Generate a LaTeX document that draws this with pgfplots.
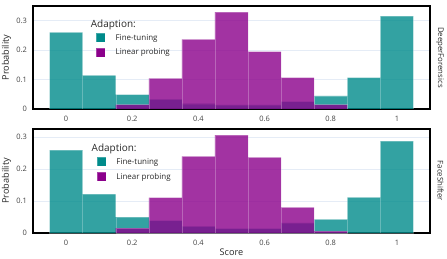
\documentclass[border=0pt]{standalone}
\usepackage{pgfplots}
\pgfplotsset{compat=1.18}
\usepackage{fontspec}
\setmainfont{Open Sans}
\definecolor{ft}{RGB}{0,139,139}
\definecolor{lp}{RGB}{139,0,139}
\definecolor{gridc}{RGB}{229,236,246}
\definecolor{tickc}{RGB}{68,68,68}
\definecolor{labc}{RGB}{40,40,40}
\tikzset{sidelab/.style={rotate=-90, anchor=center, font=\fontsize{7.8}{9}\selectfont, text=labc, inner sep=0pt}}
\pgfplotsset{
  hist/.style={
    scale only axis, width=397bp,
    clip mode=individual,
    xmin=-0.1, xmax=1.1, ymin=0,
    xtick={0,0.2,0.4,0.6,0.8,1},
    ytick={0,0.1,0.2,0.3},
    major tick length=0pt,
    /pgf/number format/assume math mode=true,
    tick label style={font=\fontsize{7.5}{8}\selectfont, text=tickc},
    xticklabel style={yshift=-3.5bp},
    yticklabel style={xshift=-2.5bp},
    ymajorgrids, xmajorgrids=false,
    major grid style={gridc, line width=0.6pt},
    axis line style={black, line width=1.4pt},
    ylabel={Probability},
    every axis y label/.style={at={(rel axis cs:0,0.5)}, xshift=-26.5bp, rotate=90, anchor=center, font=\fontsize{9.2}{11}\selectfont, text=labc},
    ybar, bar width=0.1, bar shift=0pt,
    legend image code/.code={\fill[##1, fill opacity=1] (0bp,-4.5bp) rectangle (9bp,4.5bp);},
    legend style={draw=none, fill=none, inner sep=0pt, row sep=5.5bp,
      font=\fontsize{8}{9.5}\selectfont, text=labc,
      nodes={inner sep=0pt, anchor=west},
      /tikz/every odd column/.append style={column sep=10bp}},
    legend cell align=left,
  },
  ftbar/.style={fill=ft, fill opacity=0.8, draw=white, draw opacity=0.25, line width=0.3pt},
  lpbar/.style={fill=lp, fill opacity=0.8, draw=white, draw opacity=0.25, line width=0.3pt},
}
\begin{document}
\begin{tikzpicture}
\useasboundingbox (0,0) rectangle (447bp,-259bp);
% Top panel: DeeperForensics
\begin{axis}[hist, anchor=north west, at={(33bp,-6bp)}, height=103bp, ymax=0.35,
  legend style={at={(rel axis cs:0.159,0.738)}, anchor=north west}]
\addplot[ftbar] coordinates {(0,0.26) (0.1,0.114) (0.2,0.049) (0.3,0.033) (0.4,0.018) (0.5,0.014) (0.6,0.014) (0.7,0.025) (0.8,0.045) (0.9,0.107) (1,0.316)};
\addlegendentry{Fine-tuning}
\addplot[lpbar] coordinates {(0.2,0.015) (0.3,0.104) (0.4,0.237) (0.5,0.329) (0.6,0.195) (0.7,0.107) (0.8,0.015)};
\addlegendentry{Linear probing}
\node[anchor=west, font=\fontsize{10}{12}\selectfont, text=labc] at (rel axis cs:0.137,0.82) {Adaption:};
\node[xshift=10bp, sidelab] at (rel axis cs:1,0.5) {DeeperForensics};
\end{axis}
% Bottom panel: FaceShifter
\begin{axis}[hist, anchor=north west, at={(33bp,-129bp)}, height=104bp, ymax=0.326,
  xlabel={Score},
  every axis x label/.style={at={(rel axis cs:0.5,0)}, anchor=center, yshift=-19bp, font=\fontsize{9.2}{11}\selectfont, text=labc},
  legend style={at={(rel axis cs:0.161,0.73)}, anchor=north west}]
\addplot[ftbar] coordinates {(0,0.26) (0.1,0.122) (0.2,0.05) (0.3,0.039) (0.4,0.021) (0.5,0.014) (0.6,0.014) (0.7,0.032) (0.8,0.043) (0.9,0.112) (1,0.288)};
\addlegendentry{Fine-tuning}
\addplot[lpbar] coordinates {(0.2,0.015) (0.3,0.111) (0.4,0.24) (0.5,0.307) (0.6,0.237) (0.7,0.08) (0.8,0.006)};
\addlegendentry{Linear probing}
\node[anchor=west, font=\fontsize{10}{12}\selectfont, text=labc] at (rel axis cs:0.139,0.81) {Adaption:};
\node[xshift=10.5bp, sidelab] at (rel axis cs:1,0.5) {FaceShifter};
\end{axis}
\end{tikzpicture}
\end{document}
